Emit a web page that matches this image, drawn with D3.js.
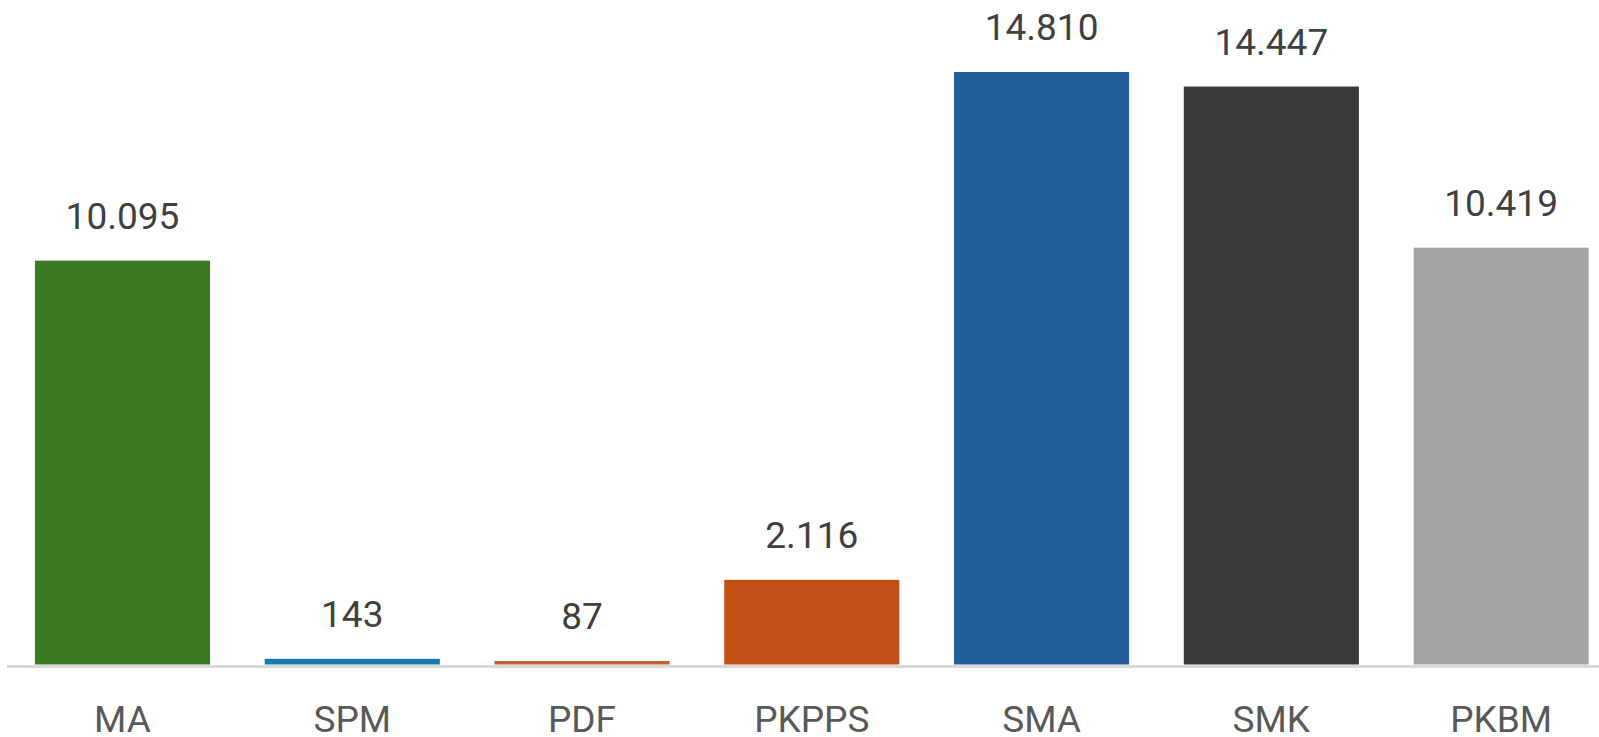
<!DOCTYPE html>
<meta charset="utf-8">
<title>Jumlah per jenjang</title>
<style>
    body { margin: 0; background: #fff; }
    svg { display: block; }
    text { font-family: Roboto, "Open Sans", sans-serif; }
</style>
<script src="https://d3js.org/d3.v7.js"></script>
<body>
<script>
    // data
    const categories = ["MA", "SPM", "PDF", "PKPPS", "SMA", "SMK", "PKBM"];
    const values = [10095, 143, 87, 2116, 14810, 14447, 10419];
    const colors = ["#3b7a23", "#1a78ab", "#c4602e", "#c05015", "#21609b", "#3a3a3a", "#a5a5a5"];

    const width = 1599, height = 737;
    const baseY = 664.5;

    const svg = d3.select("body")
        .append("svg")
        .attr("width", width)
        .attr("height", height);

    const x = d3.scaleBand()
        .domain(categories)
        .range([7.6, 1616])
        .paddingInner(0.238)
        .paddingOuter(0.119);

    const y = d3.scaleLinear()
        .domain([0, 14810])
        .range([baseY, 72]);

    const data = categories.map((c, i) => ({ cat: c, val: values[i], col: colors[i] }));

    // bars
    svg.selectAll("rect.bar")
        .data(data)
        .join("rect")
        .attr("class", "bar")
        .attr("x", d => x(d.cat))
        .attr("y", d => y(d.val))
        .attr("width", x.bandwidth())
        .attr("height", d => baseY - y(d.val))
        .attr("fill", d => d.col);

    // baseline
    svg.append("line")
        .attr("x1", 7)
        .attr("x2", width)
        .attr("y1", baseY + 2)
        .attr("y2", baseY + 2)
        .attr("stroke", "#d9d9d9")
        .attr("stroke-width", 3);

    // value labels (Indonesian thousands separator)
    const fmt = d3.formatLocale({ decimal: ",", thousands: ".", grouping: [3], currency: ["Rp", ""] }).format(",d");

    svg.selectAll("text.val")
        .data(data)
        .join("text")
        .attr("class", "val")
        .attr("x", d => x(d.cat) + x.bandwidth() / 2)
        .attr("y", d => y(d.val) - 32)
        .attr("text-anchor", "middle")
        .attr("fill", "#404040")
        .style("font-size", "37px")
        .text(d => fmt(d.val));

    // category labels
    svg.selectAll("text.cat")
        .data(data)
        .join("text")
        .attr("class", "cat")
        .attr("x", d => x(d.cat) + x.bandwidth() / 2)
        .attr("y", 732)
        .attr("text-anchor", "middle")
        .attr("fill", "#595959")
        .style("font-size", "37px")
        .text(d => d.cat);
</script>
</body>
